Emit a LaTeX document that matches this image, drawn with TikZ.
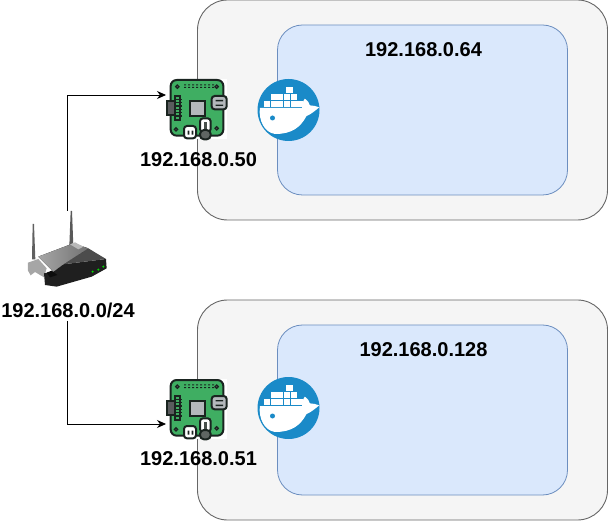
\documentclass[tikz,border=0pt]{standalone}
\usepackage{fontspec}
\setmainfont{Liberation Sans}
\usetikzlibrary{arrows.meta}
\definecolor{hostfill}{HTML}{F5F5F5}
\definecolor{hostline}{HTML}{666666}
\definecolor{netfill}{HTML}{DAE8FC}
\definecolor{netline}{HTML}{6C8EBF}
\definecolor{dockerblue}{HTML}{1A8AC8}
\definecolor{boardgreen}{HTML}{3FAE62}
\definecolor{boardline}{HTML}{1A2420}
\definecolor{partgray}{HTML}{B4B8BC}
\tikzset{
  hostbox/.style={draw=hostline, fill=hostfill, rounded corners=30pt, minimum width=410pt, minimum height=220pt, outer sep=0pt, line width=0.9pt},
  netbox/.style={draw=netline, fill=netfill, rounded corners=25pt, minimum width=290pt, minimum height=170pt, outer sep=0pt, line width=0.8pt},
  iplabel/.style={font=\fontsize{20}{24}\selectfont\bfseries, inner sep=0pt},
  link/.style={-{Stealth[length=9pt,width=8pt]}, line width=0.8pt},
  iconbox/.style={minimum width=60pt, minimum height=60pt, inner sep=0pt, outer sep=0pt},
  % Raspberry Pi board, coordinates are 3x the pixels around the centre
  pics/piboard/.style={code={
    \begin{scope}[scale=1/3, line width=2pt, draw=boardline]
      \fill[white] (-89,-86) rectangle (90,94);
      \draw[fill=boardgreen, rounded corners=6pt] (-79,-84) rectangle (79,83);
      \foreach \px/\py in {-59/-64,59/-64,-63/64,59/61}
        \draw[fill=boardline!70, line width=1.2pt] (\px,\py) circle (5);
      \foreach \px in {-36,-24,...,48}
        \fill[boardline] (\px-3,-71) rectangle (\px+3,-68) (\px-3,-63) rectangle (\px+3,-60);
      \draw[fill=partgray!50!black] (-89,-22) rectangle (-66,21);
      \draw[fill=boardgreen] (-66,-36) rectangle (-50,36);
      \foreach \py in {-28,-18,...,30}
        \fill[boardline] (-66,\py) rectangle (-46,\py+4);
      \draw[fill=partgray] (-21,-22) rectangle (24,23);
      \draw[fill=partgray, rounded corners=3pt] (44,-36) rectangle (89,4);
      \fill[boardline] (56,-24) rectangle (78,-20) (56,-10) rectangle (78,-6);
      \draw[fill=white, rounded corners=3pt] (-39,54) rectangle (-3,91);
      \fill[boardline] (-28,68) rectangle (-23,80) (-16,68) rectangle (-11,80);
      \draw[fill=white, rounded corners=3pt] (9,31) rectangle (41,72);
      \fill[boardline!80] (20,42) rectangle (30,66);
      \draw[fill=boardline!70!white, rounded corners=4pt] (9,66) rectangle (41,94);
    \end{scope}
  }},
  % Docker whale on its round badge
  pics/dockerbadge/.style={code={
    \begin{scope}[scale=1/3]
      \fill[dockerblue] (0,0) circle (93);
      \fill[white] (-86,-6) -- (41,-6) .. controls (41,-23) and (45,-30) .. (49,-34)
        .. controls (60,-26) and (62,-20) .. (64,-14) .. controls (74,-13) and (84,-12) .. (92,-8)
        .. controls (80,2) and (66,14) .. (54,18) .. controls (36,52) and (10,72) .. (-40,72)
        .. controls (-72,68) and (-90,32) .. cycle;
      \foreach \bx in {-74,-54,-34,-14,6,26}
        \fill[white] (\bx,-28) rectangle +(18,18);
      \foreach \bx in {-54,-34,-14,6}
        \fill[white] (\bx,-49) rectangle +(18,18);
      \fill[white] (-7,-70) rectangle +(20,18);
      \fill[dockerblue] (-48,24) circle (7.5);
    \end{scope}
  }},
}
\begin{document}
\begin{tikzpicture}[x=1pt,y=-1pt]

  \useasboundingbox (0,0) rectangle (608,521);

  % Upper host and its network
  \node[hostbox] (hostA) at (402.5,110) {};
  \node[netbox] (netA) at (422.5,110) {};
  \node[iplabel] (netAip) at (423.5,50) {192.168.0.64};

  % Lower host and its network
  \node[hostbox] (hostB) at (402.5,410) {};
  \node[netbox] (netB) at (422.5,410) {};
  \node[iplabel] (netBip) at (423.5,350) {192.168.0.128};

  % Boards, one on each host
  \node[iconbox] (piA) at (197,108) {};
  \pic at (piA.center) {piboard};
  \node[iplabel] (piAip) at (198.5,160) {192.168.0.50};
  \node[iconbox] (piB) at (197,408) {};
  \pic at (piB.center) {piboard};
  \node[iplabel] (piBip) at (198.5,459) {192.168.0.51};
  \coordinate (piAin) at (166,95);
  \coordinate (piBin) at (166,424);

  % Docker badges
  \node[iconbox] (dockerA) at (288.5,110) {};
  \pic at (dockerA.center) {dockerbadge};
  \node[iconbox] (dockerB) at (288.5,408) {};
  \pic at (dockerB.center) {dockerbadge};

  % Router drawn in 3x pixels
  \node[minimum width=60pt, minimum height=110pt, inner sep=0pt, outer sep=0pt] (router) at (67.5,266) {};
  \begin{scope}[shift={(0,200)}, scale=1/3]
    \fill[gray!75!black] (96,178) -- (98,72) -- (102,72) -- (106,178) -- cycle;
    \fill[gray!70!black] (208,138) -- (212,33) -- (216,33) -- (220,138) -- cycle;
    \fill[gray!70] (84,188) -- (115,177) -- (140,205) -- (132,232) -- (105,216) -- (92,226) -- (84,212) -- cycle;
    \fill[black!88] (160,215) -- (190,193) -- (318,177) -- (320,205) -- (275,230) -- (170,260) -- (135,255) -- (132,220) -- cycle;
    \fill[black!70] (190,193) -- (265,145) -- (318,177) -- cycle;
    \fill[left color=gray!70, right color=gray!90!black] (115,170) -- (220,130) -- (265,145) -- (190,193) -- (160,215) -- cycle;
    \fill[gray!55] (210,133) -- (225,127) -- (250,140) -- (235,148) -- cycle;
    \fill[black!95] (140,218) -- (155,212) -- (172,225) -- (150,232) -- cycle;
    \fill[green!85!black] (278,215) circle (3.5) (295,209) circle (3.5) (310,200) circle (3.5);
  \end{scope}
  \node[iplabel] (routerip) at (68,310) {192.168.0.0/24};

  % Links from the router up and down to the boards
  \draw[link] (router.north) |- (piAin);
  \draw[link] (router.south) |- (piBin);

\end{tikzpicture}
\end{document}
